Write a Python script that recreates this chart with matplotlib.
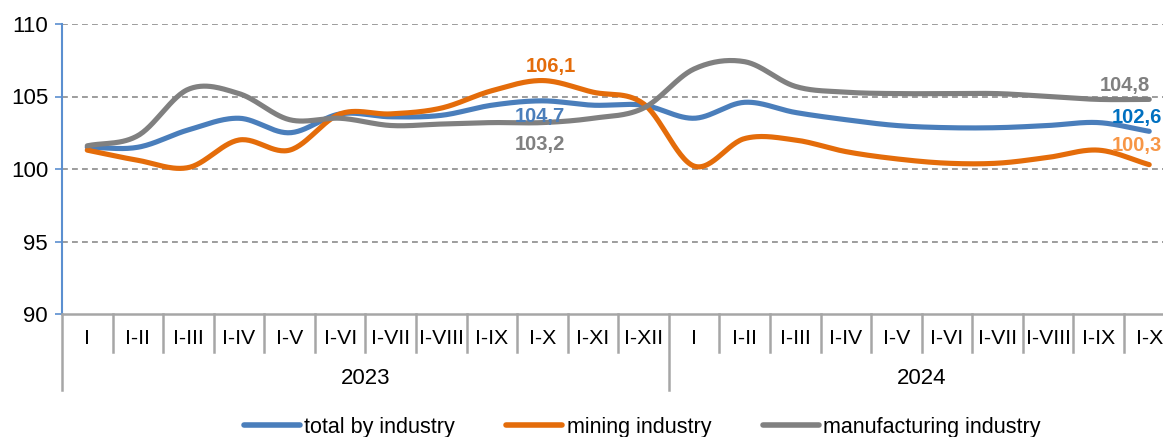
import numpy as np
import matplotlib
matplotlib.use("Agg")
import matplotlib.pyplot as plt
from matplotlib.lines import Line2D
import matplotlib.transforms as mtransforms

plt.rcParams['font.family'] = ['Liberation Sans', 'DejaVu Sans']

months_2023 = ["I", "I-II", "I-III", "I-IV", "I-V", "I-VI", "I-VII", "I-VIII", "I-IX", "I-X", "I-XI", "I-XII"]
months_2024 = ["I", "I-II", "I-III", "I-IV", "I-V", "I-VI", "I-VII", "I-VIII", "I-IX", "I-X"]
years = ["2023", "2024"]

total = [101.5, 101.5, 102.7, 103.5, 102.5, 103.8, 103.6, 103.7, 104.4, 104.7, 104.4, 104.4,
         103.5, 104.6, 103.9, 103.4, 103.0, 102.85, 102.85, 103.0, 103.2, 102.6]
mining = [101.3, 100.6, 100.1, 102.0, 101.3, 103.8, 103.8, 104.2, 105.4, 106.1, 105.3, 104.5,
          100.2, 102.1, 102.0, 101.2, 100.7, 100.4, 100.4, 100.8, 101.3, 100.3]
manuf = [101.6, 102.3, 105.5, 105.2, 103.4, 103.5, 103.0, 103.1, 103.2, 103.2, 103.5, 104.2,
         106.9, 107.4, 105.7, 105.3, 105.2, 105.2, 105.2, 105.0, 104.8, 104.8]

labels = months_2023 + months_2024
n = len(labels)
x = np.arange(n)

def smooth(xs, ys, steps=30):
    xs = np.asarray(xs, float); ys = np.asarray(ys, float)
    P = np.column_stack([xs, ys])
    P = np.vstack([P[0] - (P[1] - P[0]), P, P[-1] + (P[-1] - P[-2])])
    out = []
    for i in range(1, len(P) - 2):
        p0, p1, p2, p3 = P[i - 1], P[i], P[i + 1], P[i + 2]
        c1 = p1 + (p2 - p0) / 6.0
        c2 = p2 - (p3 - p1) / 6.0
        t = np.linspace(0, 1, steps, endpoint=(i == len(P) - 3))[:, None]
        b = (1 - t) ** 3 * p1 + 3 * (1 - t) ** 2 * t * c1 + 3 * (1 - t) * t ** 2 * c2 + t ** 3 * p2
        out.append(b)
    out = np.vstack(out)
    return out[:, 0], out[:, 1]

C_BLUE = "#4A7EBB"
C_ORANGE = "#E46C0A"
C_GRAY = "#808080"

W, H = 1163, 437
fig = plt.figure(figsize=(W / 100, H / 100), dpi=100)
left_px, right_px, top_px, bot_px = 62, 1174.5, 24, 314
ax = fig.add_axes([left_px / W, 1 - bot_px / H, (right_px - left_px) / W, (bot_px - top_px) / H])

for yv in [95, 100, 105, 110]:
    ax.axhline(yv, color="#8C8C8C", lw=1.2, ls=(0, (3.5, 2.5)), zorder=1)

for ys, c in [(total, C_BLUE), (mining, C_ORANGE), (manuf, C_GRAY)]:
    sx, sy = smooth(x, ys)
    ax.plot(sx, sy, color=c, lw=3.7, solid_capstyle="round", zorder=3)

ax.set_xlim(-0.5, n - 0.5)
ax.set_ylim(90, 110)
ax.set_yticks([90, 95, 100, 105, 110])
ax.set_yticklabels(["90", "95", "100", "105", "110"], fontsize=16)
ax.tick_params(axis="y", length=5, color="#5B8FD0", width=1.2, pad=5)
ax.set_xticks([])
for s in ["top", "right"]:
    ax.spines[s].set_visible(False)
ax.spines["left"].set_color("#5B8FD0")
ax.spines["left"].set_linewidth(1.5)
ax.spines["bottom"].set_color("#A6A6A6")
ax.spines["bottom"].set_linewidth(1.8)

hpx = bot_px - top_px
trans = mtransforms.blended_transform_factory(ax.transData, ax.transAxes)
for i in range(n + 1):
    b = i - 0.5
    y0 = -(390 - bot_px) / hpx if i in (0, 12, n) else -(352 - bot_px) / hpx
    ax.plot([b, b], [0, y0], transform=trans, color="#A6A6A6", lw=1.8, clip_on=False)
for i, lab in enumerate(labels):
    ax.text(i, -(339 - bot_px) / hpx, lab, transform=trans, ha="center", va="center", fontsize=15.3)
ax.text(5.5, -(378 - bot_px) / hpx, years[0], transform=trans, ha="center", va="center", fontsize=16)
ax.text(16.5, -(378 - bot_px) / hpx, years[1], transform=trans, ha="center", va="center", fontsize=16)

# data labels
lab_kw = dict(fontsize=14.5, fontweight="bold", va="baseline")
ax.text(9.17, 106.68, "106,1", color="#E46C0A", ha="center", **lab_kw)
ax.text(8.95, 103.24, "104,7", color="#4A7EBB", ha="center", **lab_kw)
ax.text(8.95, 101.33, "103,2", color="#808080", ha="center", **lab_kw)
ax.text(21.02, 105.38, "104,8", color="#808080", ha="right", **lab_kw)
ax.text(21.25, 103.17, "102,6", color="#0070C0", ha="right", **lab_kw)
ax.text(21.25, 101.23, "100,3", color="#F79646", ha="right", **lab_kw)

handles = [Line2D([], [], color=C_BLUE, lw=4, solid_capstyle="round"),
           Line2D([], [], color=C_ORANGE, lw=4, solid_capstyle="round"),
           Line2D([], [], color=C_GRAY, lw=4, solid_capstyle="round")]
fig.legend(handles, ["total by industry", "mining industry", "manufacturing industry"],
           loc="center", bbox_to_anchor=(642 / W, 1 - 427 / H), ncol=3, frameon=False,
           fontsize=15.5, handlelength=2.6, handletextpad=0.2, columnspacing=2.4,
           borderpad=0, borderaxespad=0)

fig.savefig("out.png", dpi=100)
